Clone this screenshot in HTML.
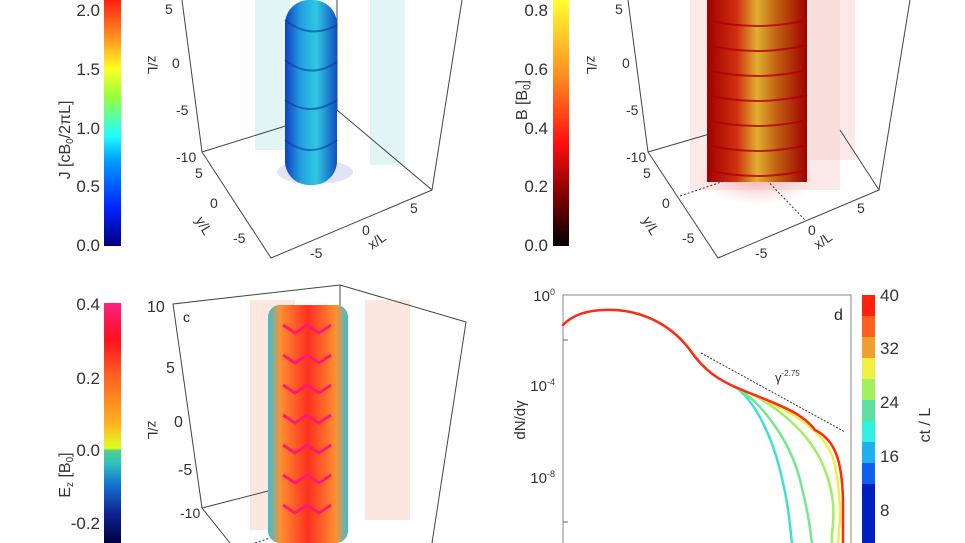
<!DOCTYPE html>
<html><head><meta charset="utf-8"><style>
html,body{margin:0;padding:0;background:#fff}
svg{display:block;font-family:"Liberation Sans",sans-serif}
</style></head><body>
<svg width="965" height="543" viewBox="0 0 965 543" xmlns="http://www.w3.org/2000/svg">
<defs>
<linearGradient id="jet" x1="0" y1="1" x2="0" y2="0">
<stop offset="0" stop-color="#00007a"/><stop offset="0.15" stop-color="#0020ff"/>
<stop offset="0.35" stop-color="#00a0ff"/><stop offset="0.45" stop-color="#20ffff"/>
<stop offset="0.6" stop-color="#90ff40"/><stop offset="0.72" stop-color="#ffff20"/>
<stop offset="0.85" stop-color="#ff9020"/><stop offset="1" stop-color="#ff2010"/>
</linearGradient>
<linearGradient id="heat" x1="0" y1="1" x2="0" y2="0">
<stop offset="0" stop-color="#000000"/><stop offset="0.2" stop-color="#800000"/>
<stop offset="0.42" stop-color="#ff1010"/><stop offset="0.7" stop-color="#ff9020"/>
<stop offset="1" stop-color="#ffff30"/>
</linearGradient>
<linearGradient id="ez" x1="0" y1="1" x2="0" y2="0">
<stop offset="0" stop-color="#000040"/><stop offset="0.12" stop-color="#102090"/>
<stop offset="0.24" stop-color="#1070d0"/><stop offset="0.33" stop-color="#30c0c0"/>
<stop offset="0.385" stop-color="#50d090"/><stop offset="0.395" stop-color="#e0ff20"/>
<stop offset="0.5" stop-color="#ffb020"/><stop offset="0.7" stop-color="#ff6020"/>
<stop offset="0.85" stop-color="#ff1020"/><stop offset="1" stop-color="#ff2080"/>
</linearGradient>
<radialGradient id="pinkglow" cx="0.5" cy="0.5" r="0.5">
<stop offset="0" stop-color="#f5a0a0" stop-opacity="0.7"/><stop offset="1" stop-color="#f5c0c0" stop-opacity="0"/>
</radialGradient>
<linearGradient id="colB" x1="0" x2="1">
<stop offset="0" stop-color="#a00000"/><stop offset="0.3" stop-color="#d03010"/>
<stop offset="0.5" stop-color="#e0b030"/><stop offset="0.7" stop-color="#c06010"/><stop offset="1" stop-color="#a00000"/>
</linearGradient>
<linearGradient id="colJ" x1="0" x2="1">
<stop offset="0" stop-color="#1040c0"/><stop offset="0.3" stop-color="#20a0e0"/>
<stop offset="0.6" stop-color="#30c8e0"/><stop offset="1" stop-color="#1050c0"/>
</linearGradient>
<linearGradient id="colE" x1="0" x2="1">
<stop offset="0" stop-color="#30c0d8"/><stop offset="0.15" stop-color="#ff9030"/>
<stop offset="0.5" stop-color="#ff3020"/><stop offset="0.85" stop-color="#ff9030"/><stop offset="1" stop-color="#30c0d8"/>
</linearGradient>
</defs>

<!-- Panel a -->
<rect x="104" y="0" width="17" height="246" fill="url(#jet)"/>
<g font-size="17" fill="#333" text-anchor="end">
<text x="100" y="16">2.0</text><text x="100" y="75">1.5</text><text x="100" y="134">1.0</text>
<text x="100" y="192">0.5</text><text x="100" y="251">0.0</text></g>
<text transform="translate(70,140) rotate(-90)" font-size="16" fill="#333" text-anchor="middle">J [cB<tspan font-size="10" dy="3">0</tspan><tspan dy="-3">/2πL]</tspan></text>
<text transform="translate(148,65) rotate(90)" font-size="14" fill="#333" text-anchor="middle">z/L</text>
<rect x="255" y="0" width="35" height="150" fill="#bfe8e8" opacity="0.45"/>
<rect x="370" y="0" width="35" height="165" fill="#bfe8e8" opacity="0.45"/>
<ellipse cx="315" cy="172" rx="38" ry="12" fill="#c8c8f0" opacity="0.5"/>
<g stroke="#444" stroke-width="1" fill="none">
<polyline points="182,0 202,152 271,258 432,190 462,0"/>
<polyline points="202,152 337,110 432,190"/><line x1="337" y1="0" x2="337" y2="110"/>
</g>
<rect x="285" y="0" width="52" height="185" rx="24" fill="url(#colJ)"/>
<g fill="none" stroke="#0a3aa0" stroke-width="2" opacity="0.6">
<path d="M285,20 Q310,40 337,25 M285,60 Q310,80 337,62 M285,100 Q310,118 337,100 M285,140 Q310,160 337,140"/></g>
<g font-size="14" fill="#333"><text x="165" y="14">5</text><text x="172" y="68">0</text><text x="176" y="115">-5</text><text x="176" y="162">-10</text>
<text x="195" y="178">5</text><text x="210" y="208">0</text><text x="233" y="243">-5</text>
<text x="310" y="258">-5</text><text x="362" y="235">0</text><text x="410" y="213">5</text></g>
<text transform="translate(195,220) rotate(60)" font-size="14" fill="#333">y/L</text>
<text transform="translate(372,250) rotate(-35)" font-size="14" fill="#333">x/L</text>

<!-- Panel b -->
<rect x="553" y="0" width="16" height="246" fill="url(#heat)"/>
<g font-size="17" fill="#333" text-anchor="end">
<text x="548" y="16">0.8</text><text x="548" y="75">0.6</text><text x="548" y="134">0.4</text>
<text x="548" y="192">0.2</text><text x="548" y="251">0.0</text></g>
<text transform="translate(527,100) rotate(-90)" font-size="16" fill="#333" text-anchor="middle">B [B<tspan font-size="10" dy="3">0</tspan><tspan dy="-3">]</tspan></text>
<text transform="translate(587,65) rotate(90)" font-size="14" fill="#333" text-anchor="middle">z/L</text>
<rect x="690" y="0" width="150" height="190" fill="#f5c0c0" opacity="0.35"/>
<rect x="810" y="0" width="45" height="160" fill="#f5c8c8" opacity="0.4"/>
<ellipse cx="758" cy="180" rx="60" ry="25" fill="url(#pinkglow)"/>
<g stroke="#444" stroke-width="1" fill="none">
<polyline points="628,0 648,152 718,258 879,190 910,0"/>
<polyline points="648,152 713,133"/><line x1="840" y1="130" x2="879" y2="190"/>
</g>
<g stroke="#333" stroke-dasharray="2,2" fill="none"><polyline points="680,196 757,170 805,220"/></g>
<rect x="707" y="0" width="100" height="182" fill="url(#colB)"/>
<g fill="none" stroke="#b00000" stroke-width="2" opacity="0.8">
<path d="M707,20 q50,12 100,0 M707,45 q50,12 100,0 M707,70 q50,12 100,0 M707,95 q50,12 100,0 M707,120 q50,12 100,0 M707,145 q50,12 100,0 M707,170 q50,12 100,0"/></g>
<g font-size="14" fill="#333"><text x="615" y="14">5</text><text x="622" y="68">0</text><text x="626" y="115">-5</text><text x="626" y="162">-10</text>
<text x="643" y="178">5</text><text x="662" y="208">0</text><text x="682" y="243">-5</text>
<text x="755" y="258">-5</text><text x="808" y="235">0</text><text x="857" y="213">5</text></g>
<text transform="translate(642,220) rotate(60)" font-size="14" fill="#333">y/L</text>
<text transform="translate(818,250) rotate(-35)" font-size="14" fill="#333">x/L</text>

<!-- Panel c -->
<rect x="104" y="303" width="17" height="240" fill="url(#ez)"/>
<g font-size="17" fill="#333" text-anchor="end">
<text x="100" y="310">0.4</text><text x="100" y="384">0.2</text><text x="100" y="456">0.0</text>
<text x="100" y="529">-0.2</text></g>
<text transform="translate(70,475) rotate(-90)" font-size="16" fill="#333" text-anchor="middle">E<tspan font-size="10" dy="3">z</tspan><tspan dy="-3"> [B</tspan><tspan font-size="10" dy="3">0</tspan><tspan dy="-3">]</tspan></text>
<text transform="translate(148,430) rotate(90)" font-size="14" fill="#333" text-anchor="middle">z/L</text>
<rect x="250" y="300" width="45" height="230" fill="#f8d0c0" opacity="0.5"/>
<rect x="365" y="300" width="45" height="220" fill="#f8d0c0" opacity="0.5"/>
<g stroke="#444" stroke-width="1" fill="none">
<polyline points="230,543 202,508 173,304 340,285 466,322 432,543"/><line x1="340" y1="285" x2="340" y2="500"/>
<line x1="202" y1="508" x2="272" y2="490"/>
</g>
<g stroke="#333" stroke-dasharray="2,2" fill="none"><polyline points="255,543 310,525 325,543"/></g>
<rect x="268" y="305" width="80" height="238" rx="12" fill="url(#colE)"/>
<g fill="none" stroke="#ff1a70" stroke-width="3">
<path d="M283,325 l12,8 l12,-8 l12,8 l12,-8 M283,355 l12,8 l12,-8 l12,8 l12,-8 M283,385 l12,8 l12,-8 l12,8 l12,-8 M283,415 l12,8 l12,-8 l12,8 l12,-8 M283,445 l12,8 l12,-8 l12,8 l12,-8 M283,475 l12,8 l12,-8 l12,8 l12,-8 M283,505 l12,8 l12,-8 l12,8 l12,-8"/></g>
<text x="183" y="322" font-size="14" fill="#222">c</text>
<g font-size="16" fill="#333"><text x="147" y="312">10</text><text x="166" y="373">5</text><text x="174" y="427">0</text><text x="178" y="475">-5</text><text x="180" y="518" font-size="14">-10</text></g>

<!-- Panel d -->
<rect x="563" y="295" width="288" height="260" fill="none" stroke="#888" stroke-width="1"/>
<g stroke="#666"><line x1="563" y1="340" x2="568" y2="340"/><line x1="563" y1="522" x2="568" y2="522"/></g>
<g font-size="15" fill="#333" text-anchor="end">
<text x="555" y="301">10<tspan font-size="9" dy="-6">0</tspan></text>
<text x="555" y="391">10<tspan font-size="9" dy="-6">-4</tspan></text>
<text x="555" y="483">10<tspan font-size="9" dy="-6">-8</tspan></text></g>
<text transform="translate(525,420) rotate(-90)" font-size="15" fill="#333" text-anchor="middle">dN/dγ</text>
<text x="834" y="320" font-size="16" fill="#222">d</text>
<line x1="701" y1="353" x2="845" y2="432" stroke="#333" stroke-dasharray="2,1.5"/>
<text x="775" y="382" font-size="13" fill="#333">γ<tspan font-size="8" dy="-6">-2.75</tspan></text>
<g fill="none" stroke-width="2.5" stroke-linecap="round">
<path d="M735,387 C752,398 770,430 780,470 S790,530 792,543" stroke="#40e0d0"/>
<path d="M735,387 C760,400 790,440 800,480 S810,530 812,543" stroke="#70e890"/>
<path d="M735,387 C770,400 810,430 825,470 S830,530 832,543" stroke="#a0f060"/>
<path d="M735,387 C790,410 830,430 836,470 S840,520 838,543" stroke="#f0f040"/>
<path d="M563,325 C575,312 595,309 615,310 C650,312 675,330 690,350 C705,372 720,380 735,387 C770,402 800,410 815,430 C835,440 842,460 843,500 L843,543" stroke="#ff2a10"/>
</g>
<g>
<rect x="862" y="295" width="13" height="21" fill="#ff2010"/><rect x="862" y="316" width="13" height="21" fill="#ff6020"/>
<rect x="862" y="337" width="13" height="21" fill="#f0a030"/><rect x="862" y="358" width="13" height="21" fill="#f0f040"/>
<rect x="862" y="379" width="13" height="21" fill="#a0f060"/><rect x="862" y="400" width="13" height="21" fill="#60e0a0"/>
<rect x="862" y="421" width="13" height="21" fill="#30f0e0"/><rect x="862" y="442" width="13" height="21" fill="#20b0f0"/>
<rect x="862" y="463" width="13" height="21" fill="#1060f0"/><rect x="862" y="484" width="13" height="59" fill="#0020c0"/>
</g>
<g font-size="17" fill="#333">
<text x="880" y="301">40</text><text x="880" y="354">32</text><text x="880" y="408">24</text>
<text x="880" y="462">16</text><text x="880" y="516">8</text></g>
<text transform="translate(930,425) rotate(-90)" font-size="16" fill="#333" text-anchor="middle">ct / L</text>
</svg>
</body></html>
